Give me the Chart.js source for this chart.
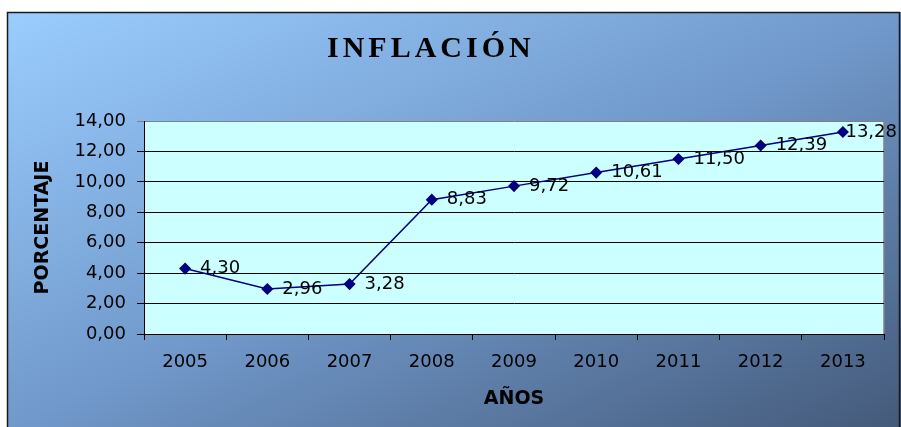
<!DOCTYPE html>
<html>
<head>
<meta charset="utf-8">
<script src="https://cdn.jsdelivr.net/npm/chart.js@4"></script>
<style>
  body { margin: 0; background: #fff; }
</style>
</head>
<body>
<canvas id="inflacion" width="901" height="427"></canvas>
<script>
// datos
const years = ['2005', '2006', '2007', '2008', '2009', '2010', '2011', '2012', '2013'];
const inflation = [4.30, 2.96, 3.28, 8.83, 9.72, 10.61, 11.50, 12.39, 13.28];
const yTicks = [0, 2, 4, 6, 8, 10, 12, 14];

const fmt = (v) => v.toFixed(2).replace('.', ',');

// fondo degradado, marco y area de trazado
const backgroundPlugin = {
    id: 'fondo',
    beforeDraw(chart) {
        const ctx = chart.ctx;
        const area = chart.chartArea;
        ctx.save();
        // degradado diagonal tipo Excel (esquina sup. izq. -> inf. der.)
        const g = ctx.createLinearGradient(7, 12, 324, 695);
        g.addColorStop(0, '#9bcdff');
        g.addColorStop(0.5, '#7199cb');
        g.addColorStop(1, '#445a7a');
        ctx.fillStyle = g;
        ctx.fillRect(7, 12, 894, 420);
        ctx.strokeStyle = '#1a1a1a';
        ctx.lineWidth = 1.5;
        ctx.strokeRect(7.5, 12.5, 892, 430);
        ctx.fillStyle = '#ccffff';
        ctx.fillRect(area.left, area.top, area.right - area.left, area.bottom - area.top);
        ctx.strokeStyle = '#808080';
        ctx.lineWidth = 1.5;
        ctx.beginPath();
        ctx.moveTo(area.right, area.bottom);
        ctx.lineTo(area.right, area.top);
        ctx.stroke();

        // titulo
        ctx.fillStyle = '#000';
        ctx.font = 'bold 30px "Liberation Serif"';
        ctx.letterSpacing = '4px';
        ctx.textAlign = 'left';
        ctx.textBaseline = 'alphabetic';
        ctx.fillText('INFLACIÓN', 327, 57);
        ctx.restore();
    }
};

// etiquetas de datos a la derecha de cada punto
const labelsPlugin = {
    id: 'etiquetas',
    afterDatasetsDraw(chart) {
        const ctx = chart.ctx;
        const meta = chart.getDatasetMeta(0);
        ctx.save();
        ctx.font = '18px "DejaVu Sans"';
        ctx.fillStyle = '#000';
        ctx.textAlign = 'left';
        ctx.textBaseline = 'middle';
        meta.data.forEach((pt, i) => {
            const txt = fmt(inflation[i]);
            const w = ctx.measureText(txt).width;
            let x = pt.x + 15;
            if (x + w > 897) x = 897 - w;
            ctx.fillText(txt, x, pt.y);
        });
        ctx.restore();
    }
};

new Chart(document.getElementById('inflacion'), {
    type: 'line',
    data: {
        labels: years,
        datasets: [{
            label: 'INFLACIÓN',
            data: inflation,
            borderColor: '#000080',
            backgroundColor: '#000080',
            borderWidth: 1.5,
            pointStyle: 'rectRot',
            pointRadius: 5,
            pointHoverRadius: 5,
            tension: 0
        }]
    },
    options: {
        responsive: false,
        animation: false,
        layout: { padding: { top: 121, left: 8, right: 17, bottom: 0 } },
        plugins: {
            legend: { display: false },
            tooltip: { enabled: false }
        },
        scales: {
            x: {
                offset: true,
                afterFit: (scale) => { scale.height = 93; },
                grid: { offset: true, drawOnChartArea: false, color: '#000', tickLength: 6 },
                border: { color: '#000', width: 1 },
                ticks: { color: '#000', padding: 12, font: { family: 'DejaVu Sans', size: 18 } },
                title: {
                    display: true,
                    text: 'AÑOS',
                    color: '#000',
                    font: { family: 'DejaVu Sans', size: 19, weight: 'bold' },
                    padding: { top: 0, bottom: 17 }
                }
            },
            y: {
                min: 0,
                max: 14,
                afterFit: (scale) => { scale.width = 136; },
                afterBuildTicks: (scale) => { scale.ticks = yTicks.map(v => ({ value: v })); },
                grid: {
                    color: (c) => (c.tick && c.tick.value === 14 ? '#808080' : '#000'),
                    tickLength: 7
                },
                border: { color: '#000', width: 1 },
                ticks: {
                    color: '#000',
                    padding: 11,
                    font: { family: 'DejaVu Sans', size: 18 },
                    callback: (v) => fmt(v)
                },
                title: {
                    display: true,
                    text: 'PORCENTAJE',
                    color: '#000',
                    font: { family: 'DejaVu Sans', size: 19, weight: 'bold' },
                    padding: { top: 24, bottom: 0 }
                }
            }
        }
    },
    plugins: [backgroundPlugin, labelsPlugin]
});
</script>
</body>
</html>
